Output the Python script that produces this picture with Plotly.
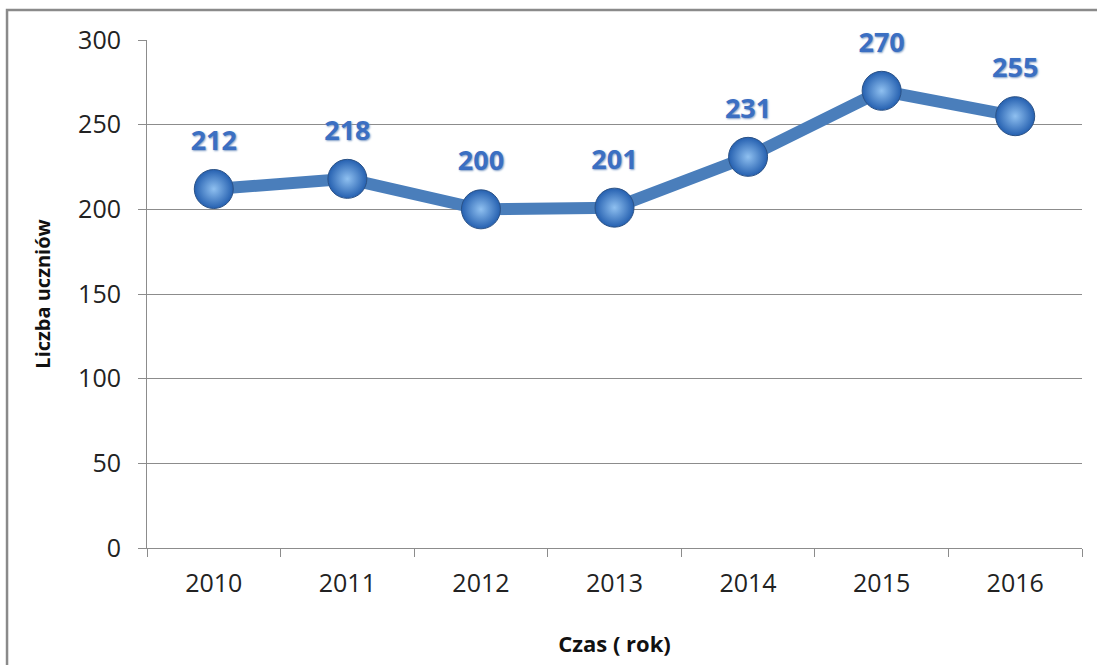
import plotly.graph_objects as go

# dane z wykresu
lata = ["2010", "2011", "2012", "2013", "2014", "2015", "2016"]
liczba_uczniow = [212, 218, 200, 201, 231, 270, 255]
y_ticks = [0, 50, 100, 150, 200, 250, 300]

GRID = "#8c8c8c"
BLUE_LINE = "#4a7ebb"
LABEL_BLUE = "#3b6fc2"

fig = go.Figure()

fig.add_trace(go.Scatter(
    x=lata,
    y=liczba_uczniow,
    mode="lines+markers",
    line=dict(color=BLUE_LINE, width=12),
    marker=dict(
        size=39,
        color="#2560b0",
        gradient=dict(type="radial", color="#8fc0f0"),
        line=dict(color="#2b5286", width=1),
    ),
    hoverinfo="x+y",
    showlegend=False,
))

# etykiety wartości nad punktami (niewidoczny marker odsuwa tekst)
fig.add_trace(go.Scatter(
    x=lata,
    y=liczba_uczniow,
    mode="markers+text",
    text=[str(v) for v in liczba_uczniow],
    textposition="top center",
    marker=dict(size=50, opacity=0),
    textfont=dict(family="Open Sans", size=27, color=LABEL_BLUE,
                  weight="bold", shadow="1px 1px 2px #7f9cc6"),
    hoverinfo="skip",
    showlegend=False,
    cliponaxis=False,
))

# ramka wykresu
fig.add_shape(
    type="rect", xref="paper", yref="paper",
    x0=-0.1497, x1=1.2, y0=-0.4, y1=1.059,
    line=dict(color="#8a8a8a", width=2.5),
    fillcolor="rgba(0,0,0,0)",
    layer="below",
)

fig.update_xaxes(
    type="category",
    tickson="boundaries",
    ticks="outside",
    ticklen=8,
    tickcolor=GRID,
    showline=True,
    linecolor=GRID,
    linewidth=1,
    showgrid=False,
    zeroline=False,
    automargin=False,
    tickfont=dict(family="Open Sans", size=25, color="#222222"),
    ticklabelstandoff=13,
    title=dict(text="Czas ( rok)", standoff=38,
               font=dict(family="Open Sans", size=22, color="#111111", weight="bold")),
    range=[-0.5, 6.5],
)

fig.update_yaxes(
    range=[0, 300],
    tickvals=y_ticks,
    ticks="outside",
    ticklen=8,
    tickcolor=GRID,
    showline=True,
    linecolor=GRID,
    linewidth=1,
    showgrid=True,
    gridcolor=GRID,
    gridwidth=1,
    zeroline=False,
    automargin=False,
    tickfont=dict(family="Open Sans", size=25, color="#222222"),
    ticklabelstandoff=12,
    title=dict(text="Liczba uczniów", standoff=22,
               font=dict(family="Open Sans", size=20, color="#111111", weight="bold")),
)

fig.update_layout(
    width=1097,
    height=665,
    margin=dict(l=147, r=15, t=40, b=117),
    plot_bgcolor="white",
    paper_bgcolor="white",
)

# bez domyślnego marginesu strony i bez paska narzędzi
fig.write_html("out.html", config={"displayModeBar": False},
               post_script="document.body.style.margin='0';")
